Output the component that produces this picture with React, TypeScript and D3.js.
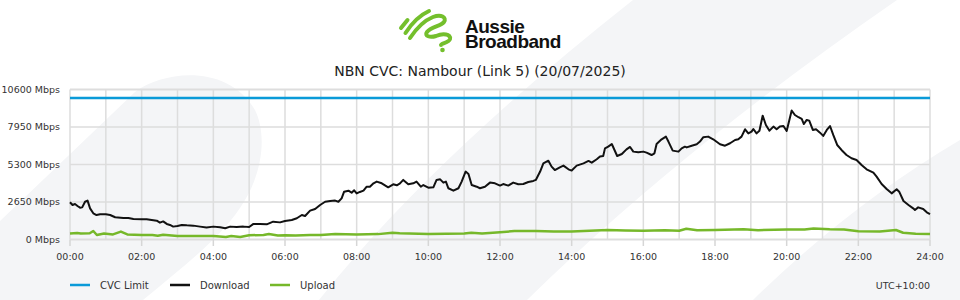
import React from "react";
import * as d3 from "d3";

const TITLE = "NBN CVC: Nambour (Link 5) (20/07/2025)";
const Y_TICKS = [0, 2650, 5300, 7950, 10600];
const X_TICK_HOURS = [0, 2, 4, 6, 8, 10, 12, 14, 16, 18, 20, 22, 24];
const CVC_LIMIT = 10000;
const SERIES_NAMES = ["CVC Limit", "Download", "Upload"];
const TIMEZONE = "UTC+10:00";

const dlTime = [0,0.07,0.14,0.21,0.28,0.34,0.42,0.49,0.56,0.65,0.74,0.84,1.0,1.12,1.26,1.49,1.63,1.77,2.0,2.14,2.28,2.42,2.51,2.6,2.7,2.79,2.88,3.0,3.12,3.26,3.44,3.63,3.81,4.0,4.19,4.33,4.47,4.65,4.84,5.0,5.12,5.3,5.49,5.67,5.86,6.0,6.19,6.33,6.47,6.56,6.7,6.84,6.98,7.12,7.26,7.4,7.49,7.58,7.65,7.77,7.86,7.93,8.0,8.09,8.19,8.28,8.37,8.47,8.56,8.7,8.88,9.02,9.12,9.21,9.3,9.44,9.58,9.67,9.79,9.86,10.0,10.14,10.23,10.33,10.42,10.49,10.56,10.7,10.84,10.93,11.04,11.12,11.21,11.35,11.44,11.58,11.72,11.86,12.0,12.09,12.23,12.37,12.51,12.65,12.79,12.93,13.0,13.12,13.21,13.35,13.44,13.53,13.67,13.77,13.91,14.0,14.14,14.33,14.47,14.56,14.7,14.79,14.88,14.93,15.02,15.12,15.27,15.4,15.53,15.63,15.72,15.86,16.0,16.09,16.23,16.31,16.37,16.51,16.63,16.7,16.82,16.98,17.07,17.16,17.21,17.35,17.49,17.58,17.67,17.81,17.95,18.14,18.28,18.42,18.56,18.65,18.74,18.84,18.93,19.02,19.07,19.16,19.24,19.33,19.42,19.52,19.63,19.72,19.81,19.91,20.0,20.14,20.23,20.33,20.42,20.48,20.56,20.63,20.73,20.82,20.93,21.02,21.12,21.21,21.3,21.41,21.53,21.67,21.81,21.95,22.09,22.23,22.42,22.51,22.65,22.79,22.93,23.07,23.14,23.26,23.4,23.53,23.58,23.67,23.81,23.91,24.0];
const dlMbps = [2630,2440,2510,2370,2250,2270,2670,2750,2200,1850,1730,1780,1780,1730,1570,1520,1520,1450,1430,1430,1380,1330,1190,1280,1100,1030,910,950,1030,1000,980,910,840,910,860,790,910,880,910,880,1100,1100,1070,1260,1210,1310,1380,1500,1730,1660,2040,2160,2440,2670,2720,2750,2670,2910,3380,3450,3310,3480,3260,3360,3450,3730,3730,3970,4090,3970,3690,3900,3830,3970,4210,3900,3970,4090,3730,3850,3660,3690,4210,4250,4020,4090,3620,3450,3620,4090,4800,4630,3850,3730,3620,3730,4020,3970,3810,3920,3810,4020,3900,3920,4060,4140,4210,4800,5380,5570,5150,4910,5100,5220,4960,4870,5220,5380,5550,5430,5670,5860,5900,6440,6560,6750,5900,6040,6370,6540,6210,6160,6210,6140,5970,6090,6750,7080,7270,6920,6280,6210,6440,6560,6510,6630,6730,6920,7220,7270,7080,6730,6630,6800,7030,7080,7270,7790,7500,7620,7810,7500,7690,8750,8090,7690,7980,7790,7980,8020,7670,9110,8800,8640,8520,8160,8450,8400,7740,7790,7550,7320,7740,8020,7390,6680,6330,5970,5740,5620,5270,4960,4720,4440,3920,3570,3260,3550,3380,2720,2440,2200,2090,2270,2160,1920,1800];

const upTime = [0,0.2,0.3,0.55,0.65,0.75,0.95,1.2,1.42,1.6,2.0,2.3,2.45,2.6,3.0,3.5,4.0,4.35,4.5,4.75,5.0,5.4,5.55,5.8,6.0,6.3,6.7,7.0,7.4,8.0,8.6,9.0,9.2,10.0,10.5,11.0,11.2,11.5,12.0,12.4,13.0,13.5,14.0,15.0,15.5,16.0,16.6,17.0,17.2,17.5,18.0,18.8,19.2,20.0,20.5,20.75,21.2,21.6,22.0,22.6,23.05,23.25,23.6,24.0];
const upMbps = [430,460,420,440,600,320,430,360,560,360,320,320,270,340,250,250,250,180,240,180,300,320,390,280,300,280,320,320,390,350,380,480,440,390,400,420,470,420,510,600,600,560,560,670,640,620,650,620,760,650,670,720,660,700,700,770,720,700,580,560,670,480,410,390];

const COLORS = { cvc: "#0a9ad8", dl: "#111111", up: "#76b82a" };

const W = 960, H = 300;
const X0 = 70, X1 = 930, Y0 = 239.5, Y1 = 89.5;

export default function App() {
  const x = d3.scaleLinear().domain([0, 24]).range([X0, X1]);
  const y = d3.scaleLinear().domain([0, 10600]).range([Y0, Y1]);
  const line = d3.line<[number, number]>().x((d) => x(d[0])).y((d) => y(d[1]));
  const dl = dlTime.map((t, i) => [t, dlMbps[i]] as [number, number]);
  const up = upTime.map((t, i) => [t, upMbps[i]] as [number, number]);
  const cvc: [number, number][] = [[0, CVC_LIMIT], [24, CVC_LIMIT]];
  const hours = d3.range(0, 25);
  const font = "'DejaVu Sans', sans-serif";
  const legendX = [70, 170, 270];
  const legendColors = [COLORS.cvc, COLORS.dl, COLORS.up];

  return (
    <div style={{ position: "absolute", left: 0, top: 0, width: W, height: H }}>
      <svg width={W} height={H} style={{ display: "block" }}>
        <rect width={W} height={H} fill="#ffffff" />
        {/* watermark shapes */}
        <path d="M0,300 L0,221 L135,92 C165,70 228,64 255,110 C266,132 264,168 245,200 C225,235 185,265 143,300 Z" fill="#f4f5f7" />
        <path d="M319,300 Q430,160 633,0 L897,0 Q680,150 527,300 Z" fill="#f4f5f7" />
        <path d="M753,300 Q850,205 960,140 L960,300 Z" fill="#f4f5f7" />

        {/* logo */}
        <g fill="none" stroke="#74bf2c" strokeWidth={4} strokeLinecap="round" strokeLinejoin="round">
          <path d="M401,28 L407.5,20" />
          <path d="M405.5,33 C410,26 418,16 429,11" />
          <path d="M410,38 C416,29 423,21 433,17 C441,14 447,17 444,22 C441,26 431,27 427,32 C424,36 430,38 436,36 C443,33 451,34 450,39 C449,43 441,43 441,45" />
        </g>
        <circle cx={442.5} cy={50} r={2.3} fill="#74bf2c" />
        <foreignObject x={465} y={18.7} width={130} height={40}>
          <div style={{ fontFamily: "'Liberation Sans', Arial, sans-serif", fontWeight: 700, fontSize: "19px", lineHeight: "15.5px", letterSpacing: "-0.5px", color: "#111", margin: 0, padding: 0, whiteSpace: "nowrap" }}>
            Aussie<br />Broadband
          </div>
        </foreignObject>

        {/* title */}
        <text x={480} y={75.5} textAnchor="middle" fontFamily={font} fontSize={14} fill="#222">{TITLE}</text>

        {/* grid */}
        {Y_TICKS.map((v) => (
          <line key={"h" + v} x1={X0} x2={X1} y1={y(v)} y2={y(v)} stroke="#dddddd" strokeWidth={v === 0 || v === 10600 ? 2 : 1.5} />
        ))}
        {hours.map((h) => (
          <line key={"v" + h} x1={x(h)} x2={x(h)} y1={Y1} y2={Y0} stroke="#dddddd" strokeWidth={1.5} />
        ))}
        {X_TICK_HOURS.map((h) => (
          <line key={"t" + h} x1={x(h)} x2={x(h)} y1={Y0} y2={Y0 + 6.5} stroke="#d6d6d6" strokeWidth={1.5} />
        ))}

        {/* y labels */}
        {Y_TICKS.map((v) => (
          <text key={"yl" + v} x={60} y={y(v) + 3} textAnchor="end" fontFamily={font} fontSize={9.5} fill="#333">{v + " Mbps"}</text>
        ))}
        {/* x labels */}
        {X_TICK_HOURS.map((h) => (
          <text key={"xl" + h} x={x(h)} y={260} textAnchor="middle" fontFamily={font} fontSize={9.5} fill="#333">{String(h).padStart(2, "0") + ":00"}</text>
        ))}

        {/* series */}
        <path d={line(cvc) || ""} fill="none" stroke={COLORS.cvc} strokeWidth={2.5} />
        <path d={line(up) || ""} fill="none" stroke={COLORS.up} strokeWidth={2.5} strokeLinejoin="round" />
        <path d={line(dl) || ""} fill="none" stroke={COLORS.dl} strokeWidth={2} strokeLinejoin="round" />

        {/* legend */}
        {SERIES_NAMES.map((n, i) => (
          <g key={n}>
            <line x1={legendX[i]} x2={legendX[i] + 20} y1={285} y2={285} stroke={legendColors[i]} strokeWidth={2.5} />
            <text x={legendX[i] + 30} y={288.5} fontFamily={font} fontSize={10} fill="#333">{n}</text>
          </g>
        ))}
        <text x={930} y={288.5} textAnchor="end" fontFamily={font} fontSize={9.5} fill="#333">{TIMEZONE}</text>
      </svg>
    </div>
  );
}
